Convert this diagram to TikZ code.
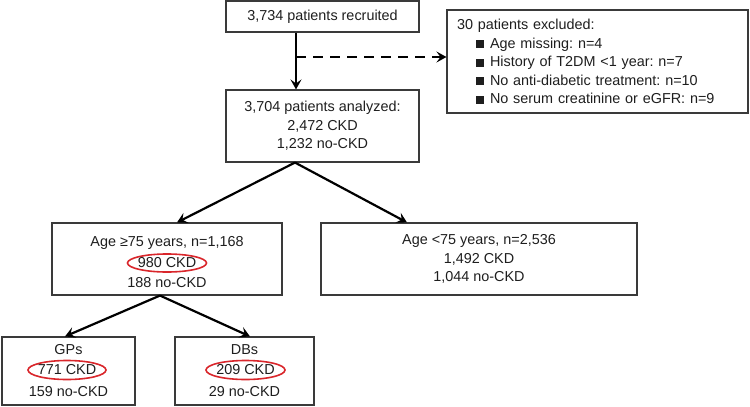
\documentclass[tikz,border=0pt]{standalone}
\usepackage{fontspec}
\setmainfont{Liberation Sans}
\usetikzlibrary{positioning,arrows.meta,shapes.geometric}
\definecolor{boxgray}{HTML}{3A3A3A}
\definecolor{ringred}{HTML}{D9262B}
\definecolor{inkgray}{HTML}{1E1E1E}
\newcommand{\sqbul}{\hspace*{19pt}\rule{8pt}{8pt}\hspace{6pt}}

\begin{document}
\frenchspacing
\begin{tikzpicture}[x=1pt,y=-1pt,
    font=\fontsize{14.4}{18.5}\selectfont,text=inkgray,
    box/.style={draw=boxgray,line width=1.1pt,rectangle,align=center,inner sep=0pt},
    ring/.style={draw=ringred,line width=1.6pt},
    flow/.style={-{Stealth[length=10pt,width=11pt,inset=4pt]},line width=2.2pt}]
    \useasboundingbox (0,0) rectangle (750,407);

    % Top boxes
    \node[box,minimum width=193pt,minimum height=31pt] (recruit) at (322.5,16.5) {3,734 patients recruited};
    \node[box,minimum width=301pt,minimum height=103pt,text width=281pt,align=left,inner xsep=10pt]
    (excl) at (597.5,61.5) {30 patients excluded:\\\sqbul Age missing: n=4\\\sqbul History of T2DM <1 year: n=7\\
    \sqbul No anti-diabetic treatment: n=10\\\sqbul No serum creatinine or eGFR: n=9};
    \node[box,minimum width=193pt,minimum height=72pt] (analyzed) at (322.5,126) {3,704 patients analyzed:\\2,472 CKD\\1,232 no-CKD};

    % Age groups
    \node[box,minimum width=230pt,minimum height=72pt] (old) at (167,259) {};
    \node (oldtitle) at (167,243) {Age ≥75 years, n=1,168};
    \node (oldckd) at (167,263) {980 CKD};
    \node (oldrest) at (167,283) {188 no-CKD};
    \node[box,minimum width=316pt,minimum height=72pt] (young) at (479,259) {Age <75 years, n=2,536\\1,492 CKD\\1,044 no-CKD};

    % Settings
    \node[box,minimum width=133pt,minimum height=68pt] (gps) at (68.5,371) {};
    \node (gpstitle) at (68.5,350) {GPs};
    \node (gpsckd) at (67,370) {771 CKD};
    \node (gpsrest) at (68.5,392) {159 no-CKD};
    \node[box,minimum width=139pt,minimum height=68pt] (dbs) at (244.5,371) {};
    \node (dbstitle) at (244.5,350) {DBs};
    \node (dbsckd) at (245.5,370) {209 CKD};
    \node (dbsrest) at (244.5,392) {29 no-CKD};

    % Red rings
    \draw[ring] (oldckd.center) ellipse [x radius=39.5pt, y radius=9pt];
    \draw[ring] (gpsckd.center) ellipse [x radius=39pt, y radius=9.5pt];
    \draw[ring] (dbsckd.center) ellipse [x radius=39.5pt, y radius=9.5pt];

    % Arrows
    \coordinate (split) at (296,57);
    \draw[flow] (recruit.south -| split) -- (analyzed.north -| split);
    \draw[flow,dash pattern=on 10pt off 7pt] (split) -- (split -| excl.west);
    \draw[flow] ([xshift=-27.5pt]analyzed.south) -- ([xshift=10pt]old.north);
    \draw[flow] ([xshift=-27.5pt]analyzed.south) -- ([xshift=-72pt]young.north);
    \draw[flow] ([xshift=-7pt]old.south) -- ([xshift=-3.5pt]gps.north);
    \draw[flow] ([xshift=-7pt]old.south) -- ([xshift=5.5pt]dbs.north);
\end{tikzpicture}
\end{document}
